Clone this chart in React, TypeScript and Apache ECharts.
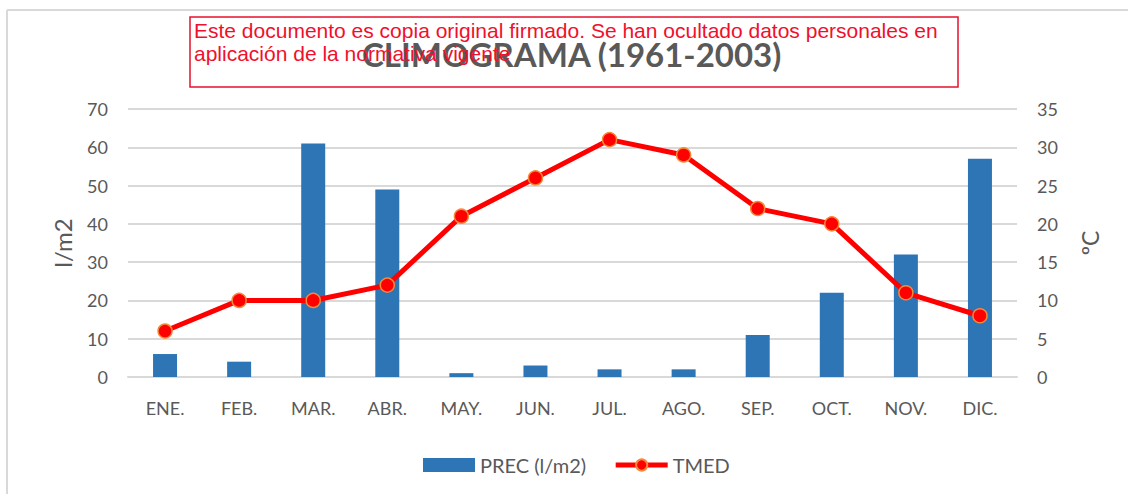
import React, { useEffect, useRef } from "react";
import * as echarts from "echarts";

const categories = ["ENE.", "FEB.", "MAR.", "ABR.", "MAY.", "JUN.", "JUL.", "AGO.", "SEP.", "OCT.", "NOV.", "DIC."];
const precValues = [6, 4, 61, 49, 1, 3, 2, 2, 11, 22, 32, 57];
const tmedValues = [6, 10, 10, 12, 21, 26, 31, 29, 22, 20, 11, 8];
const titleText = "CLIMOGRAMA (1961-2003)";
const rightAxisName = "ºC";
const noticeLines = [
  "Este documento es copia original firmado. Se han ocultado datos personales en",
  "aplicación de la normativa vigente",
];

const GREY = "#595959";
const FONT = "Lato, 'Liberation Sans', sans-serif";

export default function App() {
  const ref = useRef<HTMLDivElement>(null);
  useEffect(() => {
    if (!ref.current) return;
    const chart = echarts.init(ref.current, undefined, { renderer: "svg" });
    chart.setOption({
      animation: false,
      backgroundColor: "#ffffff",
      textStyle: { fontFamily: FONT },
      grid: { left: 128, right: 111, top: 109, bottom: 117, containLabel: false },
      legend: {
        left: 418,
        top: 450,
        itemWidth: 52,
        itemHeight: 14,
        itemGap: 27,
        textStyle: { fontSize: 20, color: GREY, fontFamily: FONT },
        data: [
          { name: "PREC (l/m2)", icon: "rect" },
          { name: "TMED", lineStyle: { width: 5, color: "#ff0000" } },
        ],
      },
      xAxis: {
        type: "category",
        data: categories,
        axisTick: { show: false },
        axisLine: { lineStyle: { color: "#d9d9d9", width: 2 } },
        axisLabel: { color: GREY, fontSize: 18, margin: 22, fontFamily: FONT },
      },
      yAxis: [
        {
          type: "value",
          min: 0,
          max: 70,
          interval: 10,
          name: "l/m2",
          nameLocation: "middle",
          nameGap: 54,
          nameRotate: 90,
          nameTextStyle: { color: GREY, fontSize: 24, fontFamily: FONT },
          axisLine: { show: false },
          axisTick: { show: false },
          axisLabel: { color: GREY, fontSize: 18, margin: 20, fontFamily: FONT },
          splitLine: { lineStyle: { color: "#d9d9d9", width: 2 } },
        },
        {
          type: "value",
          min: 0,
          max: 35,
          interval: 5,
          axisLine: { show: false },
          axisTick: { show: false },
          axisLabel: { color: GREY, fontSize: 18, margin: 20, fontFamily: FONT },
          splitLine: { show: false },
        },
      ],
      series: [
        {
          name: "PREC (l/m2)",
          type: "bar",
          yAxisIndex: 0,
          data: precValues,
          barWidth: 24,
          itemStyle: { color: "#2e75b6" },
        },
        {
          name: "TMED",
          type: "line",
          yAxisIndex: 1,
          data: tmedValues,
          symbol: "circle",
          symbolSize: 14,
          lineStyle: { color: "#ff0000", width: 5 },
          itemStyle: { color: "#ff0000", borderColor: "#f6893a", borderWidth: 1.5 },
          z: 5,
        },
      ],
      graphic: [
        { type: "line", shape: { x1: 7, y1: 10, x2: 1128, y2: 10 }, style: { stroke: "#d9d9d9", lineWidth: 2 } },
        { type: "line", shape: { x1: 7, y1: 10, x2: 7, y2: 494 }, style: { stroke: "#d9d9d9", lineWidth: 2 } },
        {
          type: "text",
          x: 1090,
          y: 243,
          rotation: Math.PI / 2,
          style: {
            text: rightAxisName,
            fill: GREY,
            font: `23px ${FONT}`,
            align: "center",
            verticalAlign: "middle",
          },
        },
        {
          type: "text",
          left: 362,
          top: 37,
          style: { text: titleText, fill: GREY, font: `bold 33px ${FONT}` },
          z: 10,
        },
        {
          type: "rect",
          shape: { x: 190, y: 17, width: 768, height: 70 },
          style: { fill: "none", stroke: "#e8102c", lineWidth: 1.5 },
          z: 20,
        },
        {
          type: "text",
          x: 194,
          y: 19,
          style: {
            text: noticeLines.join("\n"),
            fill: "#f0102c",
            font: "21px 'Liberation Sans', Arial, sans-serif",
            lineHeight: 23,
          },
          z: 20,
        },
      ],
    });
    return () => chart.dispose();
  }, []);
  return (
    <div
      ref={ref}
      style={{ position: "absolute", left: 0, top: 0, width: 1128, height: 494, background: "#fff" }}
    />
  );
}
